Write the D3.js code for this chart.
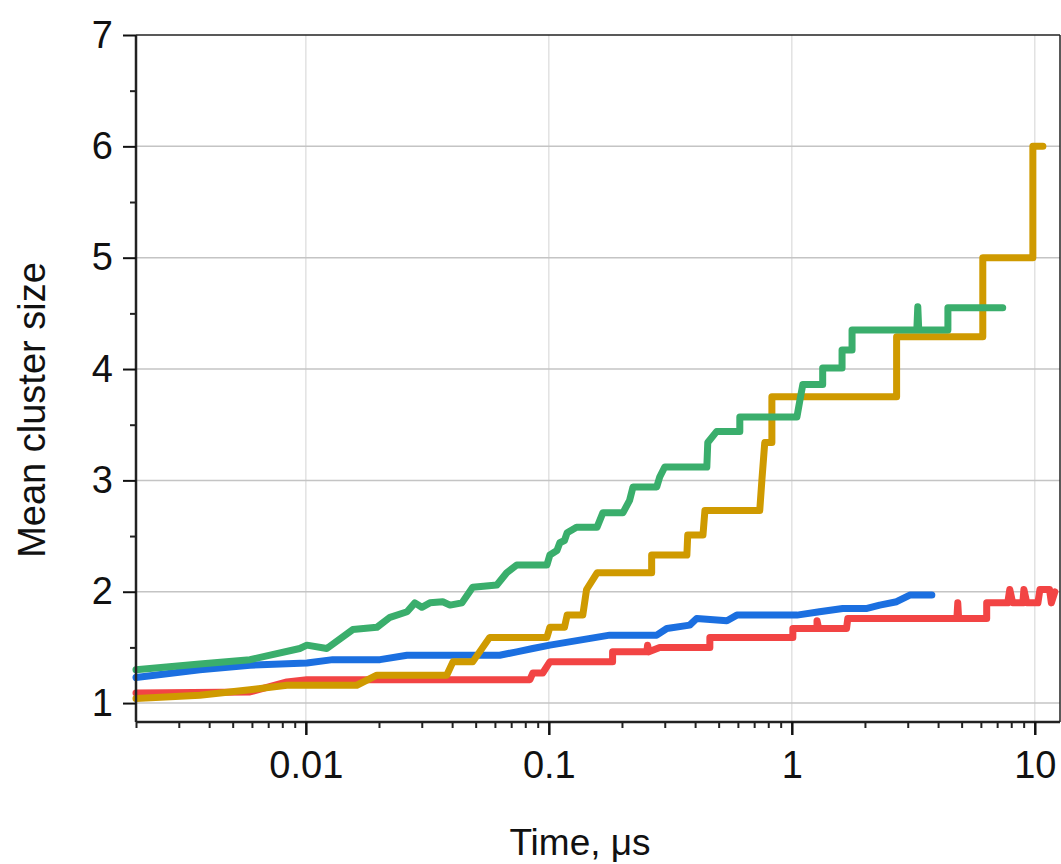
<!DOCTYPE html>
<html>
<head>
<meta charset="utf-8">
<script src="https://cdn.jsdelivr.net/npm/d3@7"></script>
<style>
  body { margin: 0; background: #fff; }
  svg { font-family: "Liberation Sans", Arial, sans-serif; }
  .series { fill: none; stroke-width: 7; stroke-linejoin: round; stroke-linecap: round; }
</style>
</head>
<body>
<div id="chart"></div>
<script>
// time in microseconds, mean cluster size
var green_t = [0.0020, 0.00366, 0.00589, 0.00944, 0.0101, 0.0122, 0.0156, 0.0196, 0.0222, 0.0261, 0.0281, 0.0300, 0.0324, 0.0366, 0.0392, 0.0439, 0.0486, 0.0611, 0.0671, 0.0738, 0.0982, 0.101, 0.108, 0.111, 0.116, 0.119, 0.130, 0.158, 0.167, 0.202, 0.215, 0.222, 0.278, 0.286, 0.300, 0.447, 0.451, 0.491, 0.611, 0.611, 1.05, 1.08, 1.11, 1.34, 1.34, 1.61, 1.61, 1.77, 1.77, 3.27, 3.30, 3.33, 4.39, 4.39, 7.38]
var green_v = [1.30, 1.35, 1.39, 1.49, 1.52, 1.49, 1.66, 1.68, 1.77, 1.82, 1.90, 1.86, 1.90, 1.91, 1.88, 1.90, 2.04, 2.06, 2.17, 2.24, 2.24, 2.33, 2.37, 2.44, 2.46, 2.53, 2.58, 2.58, 2.71, 2.71, 2.82, 2.94, 2.94, 3.03, 3.12, 3.12, 3.34, 3.44, 3.44, 3.57, 3.57, 3.72, 3.86, 3.86, 4.01, 4.01, 4.17, 4.17, 4.35, 4.35, 4.56, 4.35, 4.35, 4.55, 4.55]

var gold_t = [0.0020, 0.00366, 0.00589, 0.00836, 0.0162, 0.0196, 0.0380, 0.0403, 0.0486, 0.0571, 0.0982, 0.101, 0.116, 0.119, 0.138, 0.143, 0.158, 0.265, 0.265, 0.370, 0.373, 0.431, 0.439, 0.738, 0.753, 0.774, 0.828, 0.828, 2.70, 2.70, 6.11, 6.11, 9.82, 9.82, 10.8]
var gold_v = [1.04, 1.07, 1.12, 1.16, 1.16, 1.25, 1.25, 1.37, 1.37, 1.59, 1.59, 1.68, 1.68, 1.79, 1.79, 2.02, 2.17, 2.17, 2.33, 2.33, 2.51, 2.51, 2.73, 2.73, 3.00, 3.34, 3.34, 3.75, 3.75, 4.29, 4.29, 5.00, 5.00, 6.00, 6.00]

var blue_t = [0.0020, 0.00366, 0.00589, 0.0101, 0.0129, 0.0202, 0.0261, 0.0628, 0.0738, 0.0859, 0.101, 0.138, 0.178, 0.278, 0.306, 0.380, 0.406, 0.541, 0.594, 1.05, 1.30, 1.62, 2.04, 2.30, 2.70, 3.06, 3.77]
var blue_v = [1.23, 1.30, 1.34, 1.36, 1.39, 1.39, 1.43, 1.43, 1.46, 1.49, 1.52, 1.57, 1.61, 1.61, 1.67, 1.70, 1.76, 1.74, 1.79, 1.79, 1.82, 1.85, 1.85, 1.88, 1.91, 1.97, 1.97]

var red_t = [0.0020, 0.00589, 0.00836, 0.0101, 0.0836, 0.0859, 0.0944, 0.101, 0.183, 0.183, 0.253, 0.255, 0.258, 0.286, 0.460, 0.460, 1.01, 1.01, 1.27, 1.27, 1.29, 1.68, 1.70, 4.78, 4.82, 4.86, 6.34, 6.34, 7.74, 7.89, 8.11, 8.93, 9.02, 9.27, 10.3, 10.5, 11.5, 11.7, 12.1]
var red_v = [1.09, 1.10, 1.19, 1.21, 1.21, 1.27, 1.27, 1.37, 1.37, 1.46, 1.46, 1.52, 1.46, 1.50, 1.50, 1.59, 1.59, 1.67, 1.67, 1.74, 1.67, 1.67, 1.76, 1.76, 1.90, 1.76, 1.76, 1.90, 1.90, 2.02, 1.90, 1.90, 2.02, 1.90, 1.90, 2.02, 2.02, 1.90, 2.00]

var series_names = ["red", "blue", "gold", "green"]
var series_colors = ["#f24444", "#1b6fe0", "#cf9a00", "#3aae6c"]

var x_major = [0.01, 0.1, 1, 10]
var x_labels = ["0.01", "0.1", "1", "10"]
var y_major = [1, 2, 3, 4, 5, 6, 7]

var width = 1061, height = 864
var margin = { top: 35, right: 1, left: 136, bottom: 142 }
var font_size = 38

var svg = d3.select("#chart").append("svg")
  .attr("width", width)
  .attr("height", height)

var x = d3.scaleLog()
  .domain([0.002, 12.7])
  .range([margin.left, width - margin.right])
var y = d3.scaleLinear()
  .domain([0.83, 7])
  .range([height - margin.bottom, margin.top])

var x0 = x.range()[0], x1 = x.range()[1]
var y0 = y.range()[0], y1 = y.range()[1]

// minor ticks: 2..9 in every decade inside the domain
var x_minor = []
for (var d = -3; d <= 1; d++) {
  for (var m = 2; m <= 9; m++) {
    var t = m * Math.pow(10, d)
    if (t >= x.domain()[0] - 1e-9 && t <= x.domain()[1]) x_minor.push(t)
  }
}
var y_minor = y_major.slice(0, -1).map(function (v) { return v + 0.5 })

// grid
svg.append("g").selectAll("line.vgrid")
  .data(x_major)
  .enter().append("line")
    .attr("x1", function (d) { return x(d) })
    .attr("x2", function (d) { return x(d) })
    .attr("y1", y1)
    .attr("y2", y0)
    .attr("stroke", "#e2e2e2")
    .attr("stroke-width", 1.5)
svg.append("g").selectAll("line.hgrid")
  .data(y_major.slice(0, -1))
  .enter().append("line")
    .attr("x1", x0)
    .attr("x2", x1)
    .attr("y1", function (d) { return y(d) })
    .attr("y2", function (d) { return y(d) })
    .attr("stroke", "#c4c4c4")
    .attr("stroke-width", 1.5)

// series
var all_t = [red_t, blue_t, gold_t, green_t]
var all_v = [red_v, blue_v, gold_v, green_v]
var line = d3.line()
  .x(function (d) { return x(d[0]) })
  .y(function (d) { return y(d[1]) })

var plot = svg.append("g")
series_names.forEach(function (name, i) {
  var pts = d3.zip(all_t[i], all_v[i])
  plot.append("path")
    .datum(pts)
    .attr("class", "series " + name)
    .attr("stroke", series_colors[i])
    .attr("d", line)
})

// frame
svg.append("line")
  .attr("x1", x0).attr("x2", x1).attr("y1", y1).attr("y2", y1)
  .attr("stroke", "#222").attr("stroke-width", 1.5)
svg.append("line")
  .attr("x1", x1).attr("x2", x1).attr("y1", y1).attr("y2", y0)
  .attr("stroke", "#222").attr("stroke-width", 1.5)

// x axis
var xAxis = svg.append("g")
  .attr("transform", "translate(0," + y0 + ")")
xAxis.append("g")
  .call(d3.axisBottom(x).tickValues(x_minor).tickSize(6).tickFormat(""))
  .call(function (g) { g.select(".domain").remove() })
  .selectAll("line").attr("stroke", "#222").attr("stroke-width", 2)
xAxis.append("g")
  .call(d3.axisBottom(x).tickValues(x_major).tickSize(13).tickPadding(16)
    .tickFormat(function (d, i) { return x_labels[i] }))
  .call(function (g) {
    g.select(".domain").attr("stroke", "#222").attr("stroke-width", 2.5)
      .attr("d", "M" + x0 + ",0H" + x1)
    g.selectAll("line").attr("stroke", "#111").attr("stroke-width", 2.5)
    g.selectAll("text").attr("font-size", font_size).attr("fill", "#111")
  })

// y axis
var yAxis = svg.append("g")
  .attr("transform", "translate(" + x0 + ",0)")
yAxis.append("g")
  .call(d3.axisLeft(y).tickValues(y_minor).tickSize(6).tickFormat(""))
  .call(function (g) { g.select(".domain").remove() })
  .selectAll("line").attr("stroke", "#222").attr("stroke-width", 2)
yAxis.append("g")
  .call(d3.axisLeft(y).tickValues(y_major).tickSize(13).tickPadding(10)
    .tickFormat(d3.format("d")))
  .call(function (g) {
    g.select(".domain").attr("stroke", "#222").attr("stroke-width", 2.5)
      .attr("d", "M0," + y0 + "V" + y1)
    g.selectAll("line").attr("stroke", "#111").attr("stroke-width", 2)
    g.selectAll("text").attr("font-size", font_size).attr("fill", "#111")
  })

// axis titles
svg.append("text")
  .attr("x", 580)
  .attr("y", 855)
  .attr("text-anchor", "middle")
  .attr("font-size", 37)
  .attr("fill", "#111")
  .text("Time, \u03bcs")
svg.append("text")
  .attr("transform", "translate(45,410) rotate(-90)")
  .attr("text-anchor", "middle")
  .attr("font-size", 38)
  .attr("fill", "#111")
  .text("Mean cluster size")
</script>
</body>
</html>
